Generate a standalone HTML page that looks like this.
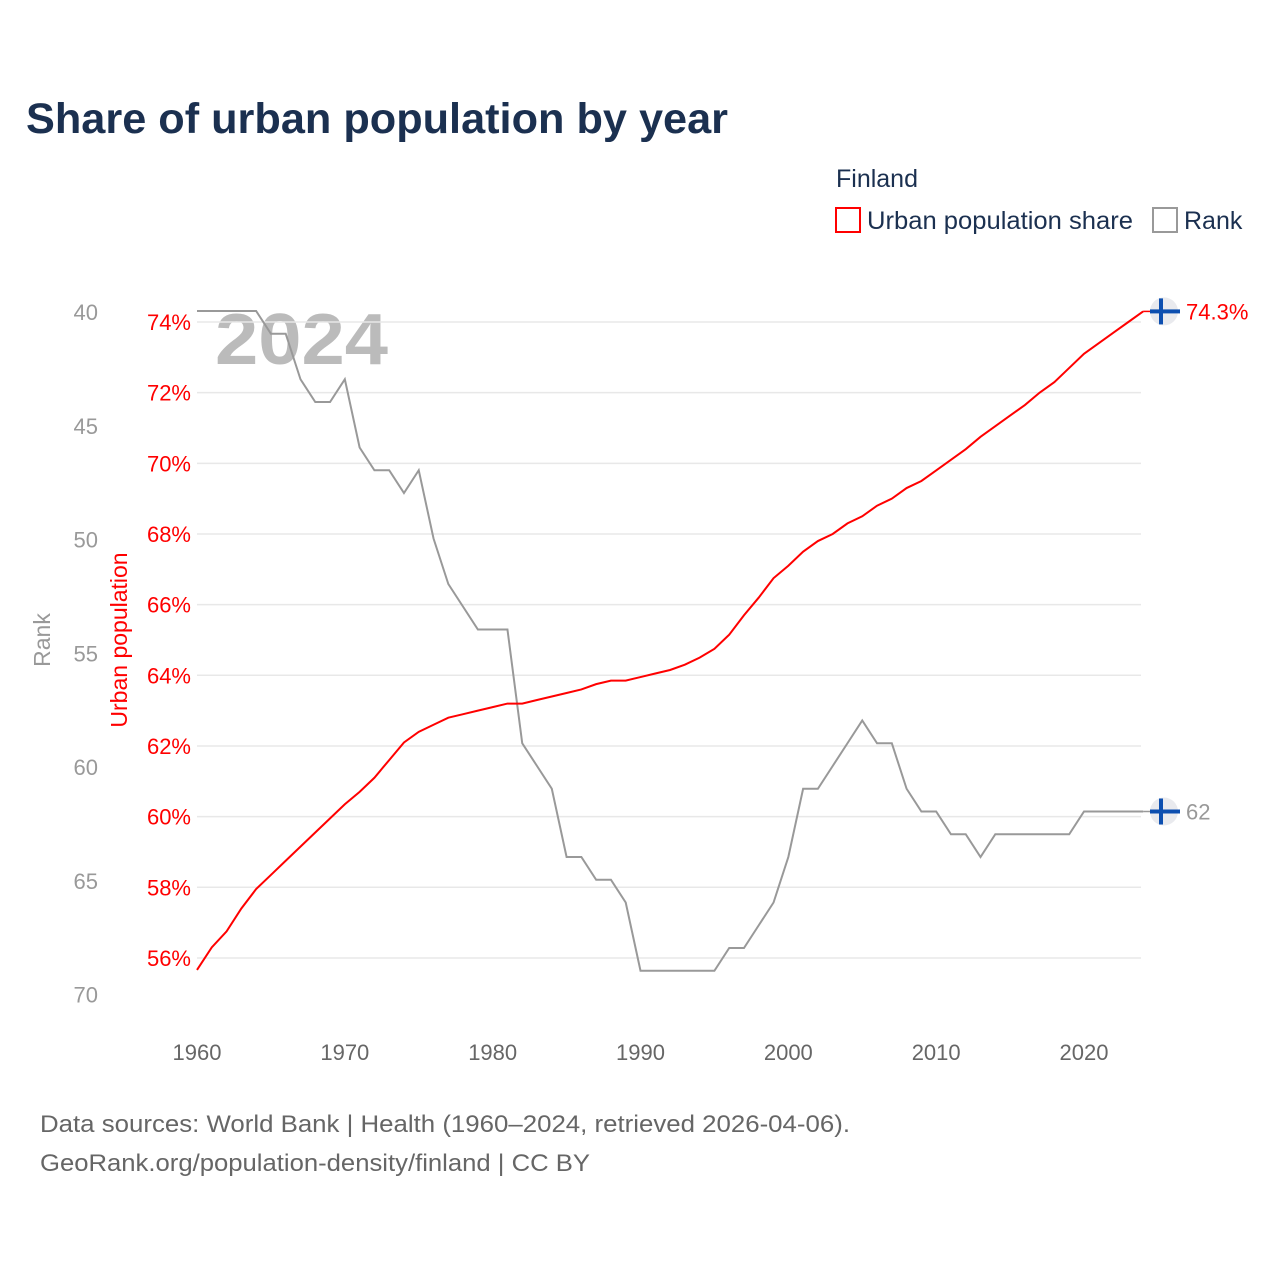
<!DOCTYPE html>
<html><head><meta charset="utf-8">
<style>
body{margin:0;background:#fff;}
svg text{font-family:"Liberation Sans",sans-serif;}
</style></head>
<body>
<svg id="chart" width="1280" height="1280" viewBox="0 0 1280 1280" xmlns="http://www.w3.org/2000/svg">
<rect width="1280" height="1280" fill="#fff"/>
<text x="26" y="133" font-size="43" font-weight="bold" fill="#1b3050" textLength="702" lengthAdjust="spacingAndGlyphs">Share of urban population by year</text>
<text x="836" y="187" font-size="25" fill="#1b3050">Finland</text>
<g>
<rect x="836" y="208" width="24" height="24" fill="none" stroke="#ff0000" stroke-width="2"/>
<text x="867" y="229" font-size="25" fill="#1b3050" textLength="266" lengthAdjust="spacingAndGlyphs">Urban population share</text>
</g>
<g>
<rect x="1153" y="208" width="24" height="24" fill="none" stroke="#999" stroke-width="2"/>
<text x="1184" y="229" font-size="25" fill="#1b3050">Rank</text>
</g>
<text x="215" y="364" font-size="72" font-weight="bold" fill="#bbb" textLength="173" lengthAdjust="spacingAndGlyphs">2024</text>
<g id="grid"></g>
<g id="axes"></g>
<g id="lines"></g>
<text transform="translate(50,640) rotate(-90)" text-anchor="middle" font-size="23" fill="#999">Rank</text>
<text transform="translate(127,640) rotate(-90)" text-anchor="middle" font-size="23" fill="#ff0000">Urban population</text>
<text x="40" y="1132" font-size="24" fill="#666" textLength="810" lengthAdjust="spacingAndGlyphs">Data sources: World Bank | Health (1960–2024, retrieved 2026-04-06).</text>
<text x="40" y="1171" font-size="24" fill="#666" textLength="550" lengthAdjust="spacingAndGlyphs">GeoRank.org/population-density/finland | CC BY</text>
</svg>
<script>
const years=[];for(let y=1960;y<=2024;y++)years.push(y);
const urbanValues=[55.66,56.3,56.75,57.4,57.95,58.35,58.75,59.15,59.55,59.95,60.35,60.7,61.1,61.6,62.1,62.4,62.6,62.8,62.9,63.0,63.1,63.2,63.2,63.3,63.4,63.5,63.6,63.75,63.85,63.85,63.95,64.05,64.15,64.3,64.5,64.75,65.15,65.7,66.2,66.75,67.1,67.5,67.8,68.0,68.3,68.5,68.8,69.0,69.3,69.5,69.8,70.1,70.4,70.75,71.05,71.35,71.65,72.0,72.3,72.7,73.1,73.4,73.7,74.0,74.3];
const rankValues=[40,40,40,40,40,41,41,43,44,44,43,46,47,47,48,47,50,52,53,54,54,54,59,60,61,64,64,65,65,66,69,69,69,69,69,69,68,68,67,66,64,61,61,60,59,58,59,59,61,62,62,63,63,64,63,63,63,63,63,63,62,62,62,62,62];
const xTicks=[1960,1970,1980,1990,2000,2010,2020];
const urbanTicks=[56,58,60,62,64,66,68,70,72,74];
const rankTicks=[40,45,50,55,60,65,70];
const NS="http://www.w3.org/2000/svg";
const xs=y=>197+(y-1960)*(1084-197)/60;
const yu=v=>322+(74-v)*35.33;
const yr=v=>311+(v-40)*22.75;
function mk(tag,attrs,parent){const e=document.createElementNS(NS,tag);for(const k in attrs)e.setAttribute(k,attrs[k]);parent.appendChild(e);return e;}
const grid=document.getElementById('grid'),axes=document.getElementById('axes'),lines=document.getElementById('lines');
urbanTicks.forEach(t=>{
 const l=mk('line',{x1:197,x2:1141,y1:yu(t),y2:yu(t),stroke:'#e8e8e8','stroke-width':1.5},grid);
 
 
 const tx=mk('text',{x:191,y:yu(t)+8,'text-anchor':'end','font-size':22,fill:'#ff0000'},axes);
 tx.textContent=t+'%';
 
 
});
rankTicks.forEach(t=>{
 const tx=mk('text',{x:98,y:yr(t)+9,'text-anchor':'end','font-size':22,fill:'#999'},axes);
 tx.textContent=t;
 
 
});
xTicks.forEach(t=>{
 const tx=mk('text',{x:xs(t),y:1060,'text-anchor':'middle','font-size':22,fill:'#666'},axes);
 tx.textContent=t;
 
 
});
const rp=mk('polyline',{points:years.map((y,i)=>xs(y)+','+yr(rankValues[i])).join(' '),fill:'none',stroke:'#999','stroke-width':2},lines);


const up=mk('polyline',{points:years.map((y,i)=>xs(y)+','+yu(urbanValues[i])).join(' '),fill:'none',stroke:'#ff0000','stroke-width':2},lines);


function flag(yv,color,label,name){
 const g=mk('g',{},lines);
 
 
 const x0=xs(2024);
 mk('line',{x1:x0,x2:x0+12,y1:yv,y2:yv,stroke:color,'stroke-width':1.5},g);
 mk('circle',{cx:1164,cy:yv,r:14,fill:'#e9eaee'},g);
 mk('rect',{x:1150,y:yv-2,width:30,height:4,fill:'#0d4fb0'},g);
 mk('rect',{x:1159,y:yv-13,width:4,height:26,fill:'#0d4fb0'},g);
 const t=mk('text',{x:1186,y:yv+8,'font-size':22,fill:color},g);
 t.textContent=label;
}
flag(yu(urbanValues[urbanValues.length-1]),'#ff0000',urbanValues[urbanValues.length-1].toFixed(1)+'%','urban-end-label');
flag(yr(rankValues[rankValues.length-1]),'#999',String(rankValues[rankValues.length-1]),'rank-end-label');
</script>
</body></html>
